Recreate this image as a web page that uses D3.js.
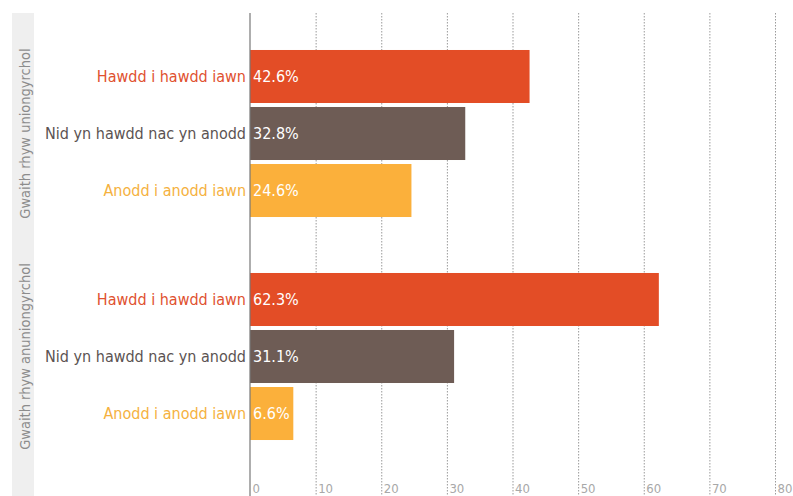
<!DOCTYPE html>
<html><head><meta charset="utf-8">
<script src="https://cdn.jsdelivr.net/npm/d3@7"></script>
<style>html,body{margin:0;padding:0;background:#fff;overflow:hidden}</style>
</head><body>
<svg id="c" width="793" height="496"></svg>
<script>
const groups = ["Gwaith rhyw uniongyrchol", "Gwaith rhyw anuniongyrchol"];
const categories = ["Hawdd i hawdd iawn", "Nid yn hawdd nac yn anodd", "Anodd i anodd iawn"];
const valuesDirect = [42.6, 32.8, 24.6];
const valuesIndirect = [62.3, 31.1, 6.6];
const ticks = [0, 10, 20, 30, 40, 50, 60, 70, 80];
const colors = ["#e34d26", "#6e5c55", "#fbb03b"];
const labelColors = ["#e0512f", "#5b5352", "#f5b13e"];

const data = [];
groups.forEach((g, gi) => {
  const vals = gi === 0 ? valuesDirect : valuesIndirect;
  categories.forEach((c, ci) => data.push({group: g, cat: c, ci, value: vals[ci]}));
});

const svg = d3.select("#c");
const font = "'DejaVu Sans Condensed','Open Sans',sans-serif";
const x = d3.scaleLinear().domain([0, 80]).range([250, 775]);
const yG = d3.scaleBand().domain(groups).range([22, 468]);
const yC = d3.scaleBand().domain(categories).range([0, yG.bandwidth()]).paddingInner(0.07).paddingOuter(0.491);

// left group band
svg.append("rect").attr("x", 12).attr("y", 13).attr("width", 22).attr("height", 483).attr("fill", "#efefef");

// gridlines
const axis = d3.axisBottom(x).tickValues(ticks).tickSize(483).tickFormat(d => d);
const gAx = svg.append("g").attr("transform", "translate(0,13)").call(axis);
gAx.select(".domain").remove();
gAx.selectAll(".tick line").attr("stroke", d => d === 0 ? "none" : "#9a9a9a").attr("stroke-dasharray", "1.5,1.5").attr("stroke-width", 1);
gAx.selectAll(".tick text").attr("x", 2).attr("y", 480).attr("dy", 0).attr("text-anchor", "start")
  .attr("fill", "#a8a8a8").attr("font-size", 13).attr("font-family", font);

// bars
svg.append("g").selectAll("rect").data(data).join("rect")
  .attr("x", x(0)).attr("y", d => yG(d.group) + yC(d.cat))
  .attr("width", d => x(d.value) - x(0)).attr("height", yC.bandwidth())
  .attr("fill", d => colors[d.ci]);

// value labels
svg.append("g").selectAll("text").data(data).join("text")
  .attr("x", x(0) + 3).attr("y", d => yG(d.group) + yC(d.cat) + yC.bandwidth() / 2)
  .attr("dy", "0.35em").attr("fill", "#fff").attr("font-size", 16).attr("font-family", font)
  .text(d => d.value.toFixed(1) + "%");

// category labels
svg.append("g").selectAll("text").data(data).join("text")
  .attr("x", 246).attr("y", d => yG(d.group) + yC(d.cat) + yC.bandwidth() / 2)
  .attr("dy", "0.35em").attr("text-anchor", "end").attr("fill", d => labelColors[d.ci])
  .attr("font-size", 16).attr("font-family", font)
  .text(d => d.cat);

// group labels
svg.append("g").selectAll("text").data(groups).join("text")
  .attr("transform", g => `translate(30,${yG(g) + yG.bandwidth() / 2}) rotate(-90)`)
  .attr("text-anchor", "middle").attr("fill", "#8c8c8c").attr("font-size", 14.5).attr("font-family", font)
  .text(g => g);

// zero axis line
svg.append("line").attr("x1", x(0)).attr("x2", x(0)).attr("y1", 13).attr("y2", 496)
  .attr("stroke", "#777").attr("stroke-width", 1.2);
</script>
</body></html>
